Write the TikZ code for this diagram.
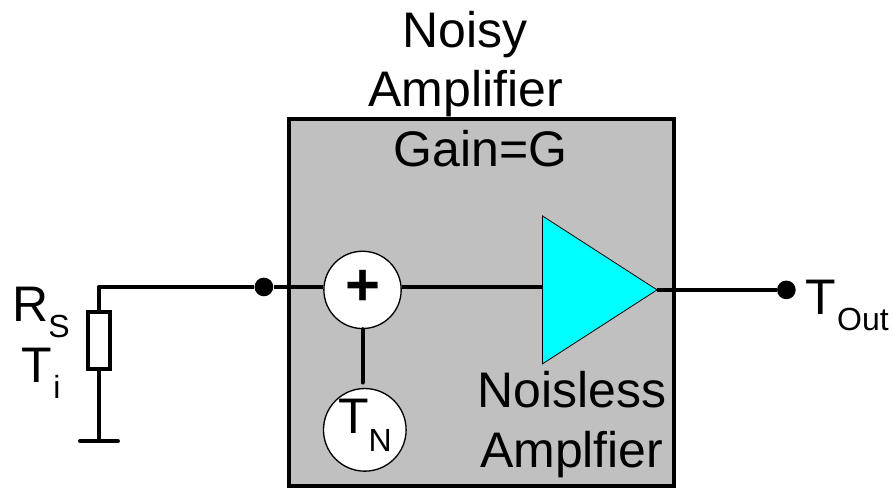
\documentclass[tikz,border=0pt]{standalone}
\usepackage{fontspec}
\setmainfont{Liberation Sans}
\usetikzlibrary{positioning}
\definecolor{ampgrey}{RGB}{192,192,192}
\definecolor{ampcyan}{RGB}{0,255,255}
\newcommand{\subtxt}[2][-12pt]{\raisebox{#1}{\fontsize{24}{24}\selectfont #2}}
\tikzset{
    wire/.style={line width=3pt, line join=round},
    dotnode/.style={circle, fill=black, minimum size=14pt, inner sep=0pt},
    roundnode/.style={circle, draw=black, fill=white, line width=1pt, minimum size=57pt, inner sep=0pt},
    txt/.style={inner sep=0pt, font=\fontsize{37.5}{37.5}\selectfont, text=black},
}

\begin{document}
\begin{tikzpicture}[x=1pt, y=-1pt]
    \useasboundingbox (0,0) rectangle (670,367);

    % amplifier box
    \node[draw=black, fill=ampgrey, line width=3pt, minimum width=288.5pt, minimum height=275.5pt, inner sep=0pt, anchor=north west] (noisybox) at (215.5,88) {};

    \coordinate (groundl) at (60,331);
    \coordinate (groundr) at (88.5,331);
    \coordinate (ground) at (74,331);
    \coordinate (corner) at (74,215.3);

    \node[dotnode] (indot) at (198,215.3) {};
    \node[dotnode] (outdot) at (590,217.5) {};
    \node[roundnode, minimum size=58pt] (sum) at (272,217.5) {};
    \node[roundnode, minimum size=62pt] (noise) at (273.7,322.5) {};

    \coordinate (tria) at (407,162);
    \coordinate (trib) at (407,273);
    \coordinate (tric) at (493,217.5);
    \coordinate (triin) at (408,215.3);

    \draw[wire] (outdot) -- (tric);
    \draw[wire] (ground) -- (corner) -- (indot) -- (indot -| sum.west);
    \draw[wire] (sum.east |- triin) -- (triin);
    \draw[wire, line cap=round, shorten >=4pt] (sum) -- (sum |- noise.north);
    \draw[wire, line cap=round] (groundl) -- (groundr);
    \draw[draw=black, fill=ampcyan, line width=.6pt] (tria) -- (trib) -- (tric) -- cycle;
    \node[draw=black, fill=white, line width=3pt, minimum width=16.5pt, minimum height=43pt, inner sep=0pt] (rs) at (74,255.3) {};

    \node[txt, font=\fontsize{45}{45}\selectfont\bfseries] (plus) at (272,216) {+};
    \node[txt, anchor=base] (title1) at (349,36) {Noisy};
    \node[txt, anchor=base] (title2) at (349.5,80) {Amplifier};
    \node[txt, anchor=base] (gain) at (360.5,125) {Gain=G};
    \node[txt, anchor=base] (nl1) at (429,306) {Noisless};
    \node[txt, anchor=base] (nl2) at (429,351) {Amplfier};
    \node[txt, anchor=base west] (rslabel) at (9,241.5) {R\subtxt{S}};
    \node[txt, anchor=base west] (tilabel) at (16,287) {T\kern 1pt\subtxt{i}};
    \node[txt, anchor=base west] (tnlabel) at (253.5,325.5) {T\subtxt[-13.5pt]{N}};
    \node[txt, anchor=base west] (toutlabel) at (604,236) {T\kern 1pt\subtxt{Out}};
\end{tikzpicture}
\end{document}
